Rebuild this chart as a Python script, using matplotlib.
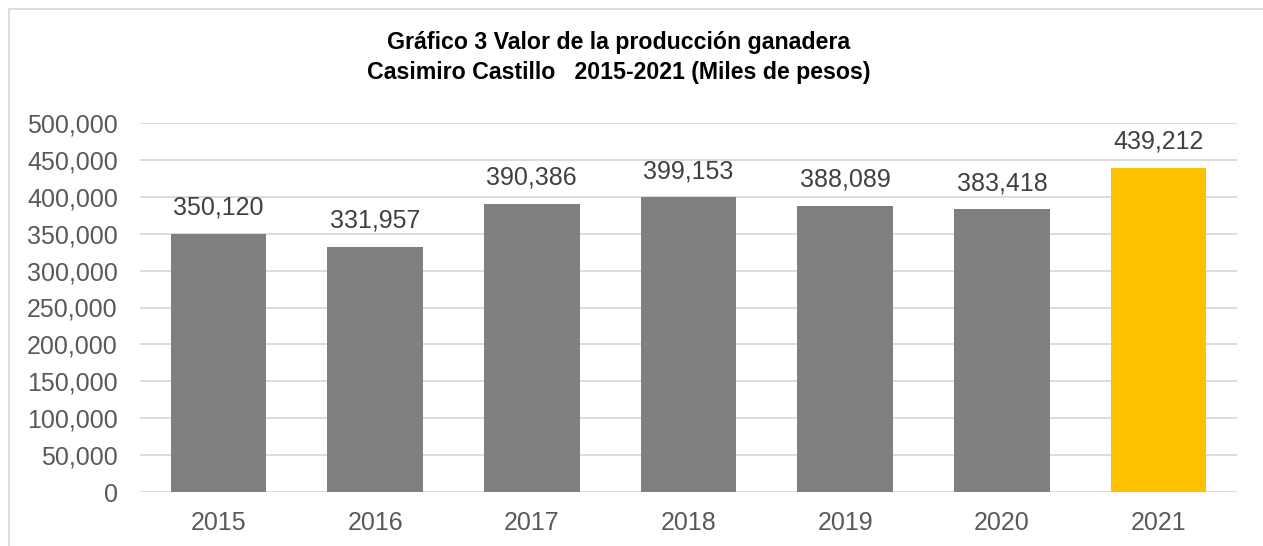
import matplotlib as mpl
mpl.use('Agg')
import matplotlib.pyplot as plt
from matplotlib.ticker import FuncFormatter
from matplotlib.patches import Rectangle

anios = ['2015', '2016', '2017', '2018', '2019', '2020', '2021']
valores = [350120, 331957, 390386, 399153, 388089, 383418, 439212]
colores = ['#7F7F7F'] * 6 + ['#FFC000']

plt.rcParams['font.family'] = ['Liberation Sans', 'DejaVu Sans']

fig = plt.figure(figsize=(12.63, 5.46), dpi=100)
ax = fig.add_axes([140 / 1263, 1 - 492 / 546, (1237 - 140) / 1263, (492 - 123) / 546])

x = range(len(anios))
barras = ax.bar(x, valores, width=0.61, color=colores, zorder=2)
for b, v in zip(barras, valores):
    ax.text(b.get_x() + b.get_width() / 2, v + 19000, f'{v:,}',
            ha='center', va='bottom', fontsize=18, color='#404040')

ax.set_ylim(0, 500000)
ax.set_xlim(-0.5, len(anios) - 0.5)
ax.set_yticks(range(0, 500001, 50000))
ax.yaxis.set_major_formatter(FuncFormatter(lambda v, p: f'{int(v):,}'))
ax.set_xticks(list(x))
ax.set_xticklabels(anios)
ax.tick_params(axis='both', length=0, labelsize=18, labelcolor='#595959')
ax.tick_params(axis='y', pad=16)
ax.tick_params(axis='x', pad=14)
ax.grid(axis='y', color='#D9D9D9', linewidth=1.3, zorder=0)
for s in ax.spines.values():
    s.set_visible(False)

centro = 619 / 1263
fig.text(centro, 1 - 42 / 546, 'Gráfico 3 Valor de la producción ganadera',
         ha='center', va='center', fontsize=16.7, fontweight='bold', color='black')
fig.text(centro, 1 - 73 / 546, 'Casimiro Castillo   2015-2021 (Miles de pesos)',
         ha='center', va='center', fontsize=16.7, fontweight='bold', color='black')

fig.patches.append(Rectangle((9 / 1263, -0.1), 1.2, 1 - 9 / 546 + 0.1,
                             transform=fig.transFigure, fill=False,
                             edgecolor='#D9D9D9', linewidth=1.3))

fig.savefig('out.png', dpi=100)
